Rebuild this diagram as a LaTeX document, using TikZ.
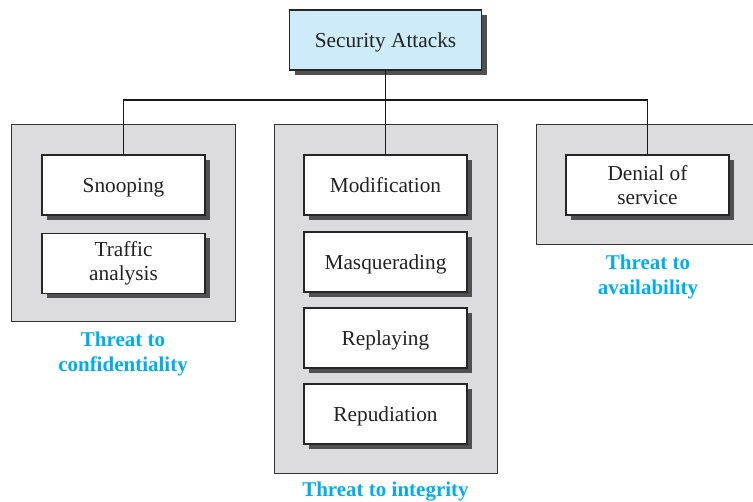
\documentclass[tikz,border=0pt]{standalone}
\usepackage{fontspec}
\setmainfont{Liberation Serif}
\usetikzlibrary{shadows}
\definecolor{topblue}{HTML}{CDEBF8}
\definecolor{grpgray}{HTML}{DCDCDE}
\definecolor{shadowgray}{HTML}{505050}
\definecolor{threatblue}{HTML}{00AEEF}
\definecolor{txt}{HTML}{222222}
\begin{document}
\begin{tikzpicture}[x=1pt,y=-1pt,
  groupbox/.style={draw=black!80, line width=1pt, fill=grpgray, inner sep=0pt},
  itembox/.style={draw=black!85, line width=1.1pt, fill=white, inner sep=0pt,
    minimum width=163pt, minimum height=60pt, align=center, text=txt,
    font=\fontsize{21.3}{24.5}\selectfont,
    drop shadow={shadow xshift=5pt, shadow yshift=-5pt, fill=shadowgray, opacity=1}},
  oneline/.style={text depth=0pt},
  topbox/.style={itembox, fill=topblue, minimum width=192pt},
  threat/.style={text=threatblue, align=center, font=\bfseries\fontsize{21}{25}\selectfont, inner sep=0pt},
  link/.style={draw=black!90, line width=1.2pt}]
\useasboundingbox (0,0) rectangle (753,502);
% groups
\node[groupbox, minimum width=224pt, minimum height=197pt] (g1) at (123,223.5) {};
\node[groupbox, minimum width=223pt, minimum height=349pt] (g2) at (385.5,299.5) {};
\node[groupbox, minimum width=226pt, minimum height=120pt] (g3) at (649,185) {};
% top
\node[topbox, oneline] (top) at (385.5,40) {Security Attacks};
% items
\node[itembox, oneline] (snoop) at (123.5,185) {Snooping};
\node[itembox] (traffic) at (123.5,263.5) {Traffic\\analysis};
\node[itembox, oneline] (mod) at (385.5,185) {Modification};
\node[itembox, oneline] (masq) at (385.5,262) {Masquerading};
\node[itembox, oneline] (replay) at (385.5,338) {Replaying};
\node[itembox, oneline] (repud) at (385.5,414) {Repudiation};
\node[itembox] (den) at (647.5,185) {Denial of\\service};
% labels
\node[threat] (t1) at (123,354) {Threat to\\confidentiality};
\node[threat] (t2) at (385.5,492) {Threat to integrity};
\node[threat] (t3) at (648,277) {Threat to\\availability};
% connectors
\coordinate (j) at (385.5,100);
\draw[link] (top.south) -- (mod.north);
\draw[link] (snoop.north) -- (snoop.north |- j) -- (den.north |- j) -- (den.north);
\end{tikzpicture}
\end{document}
